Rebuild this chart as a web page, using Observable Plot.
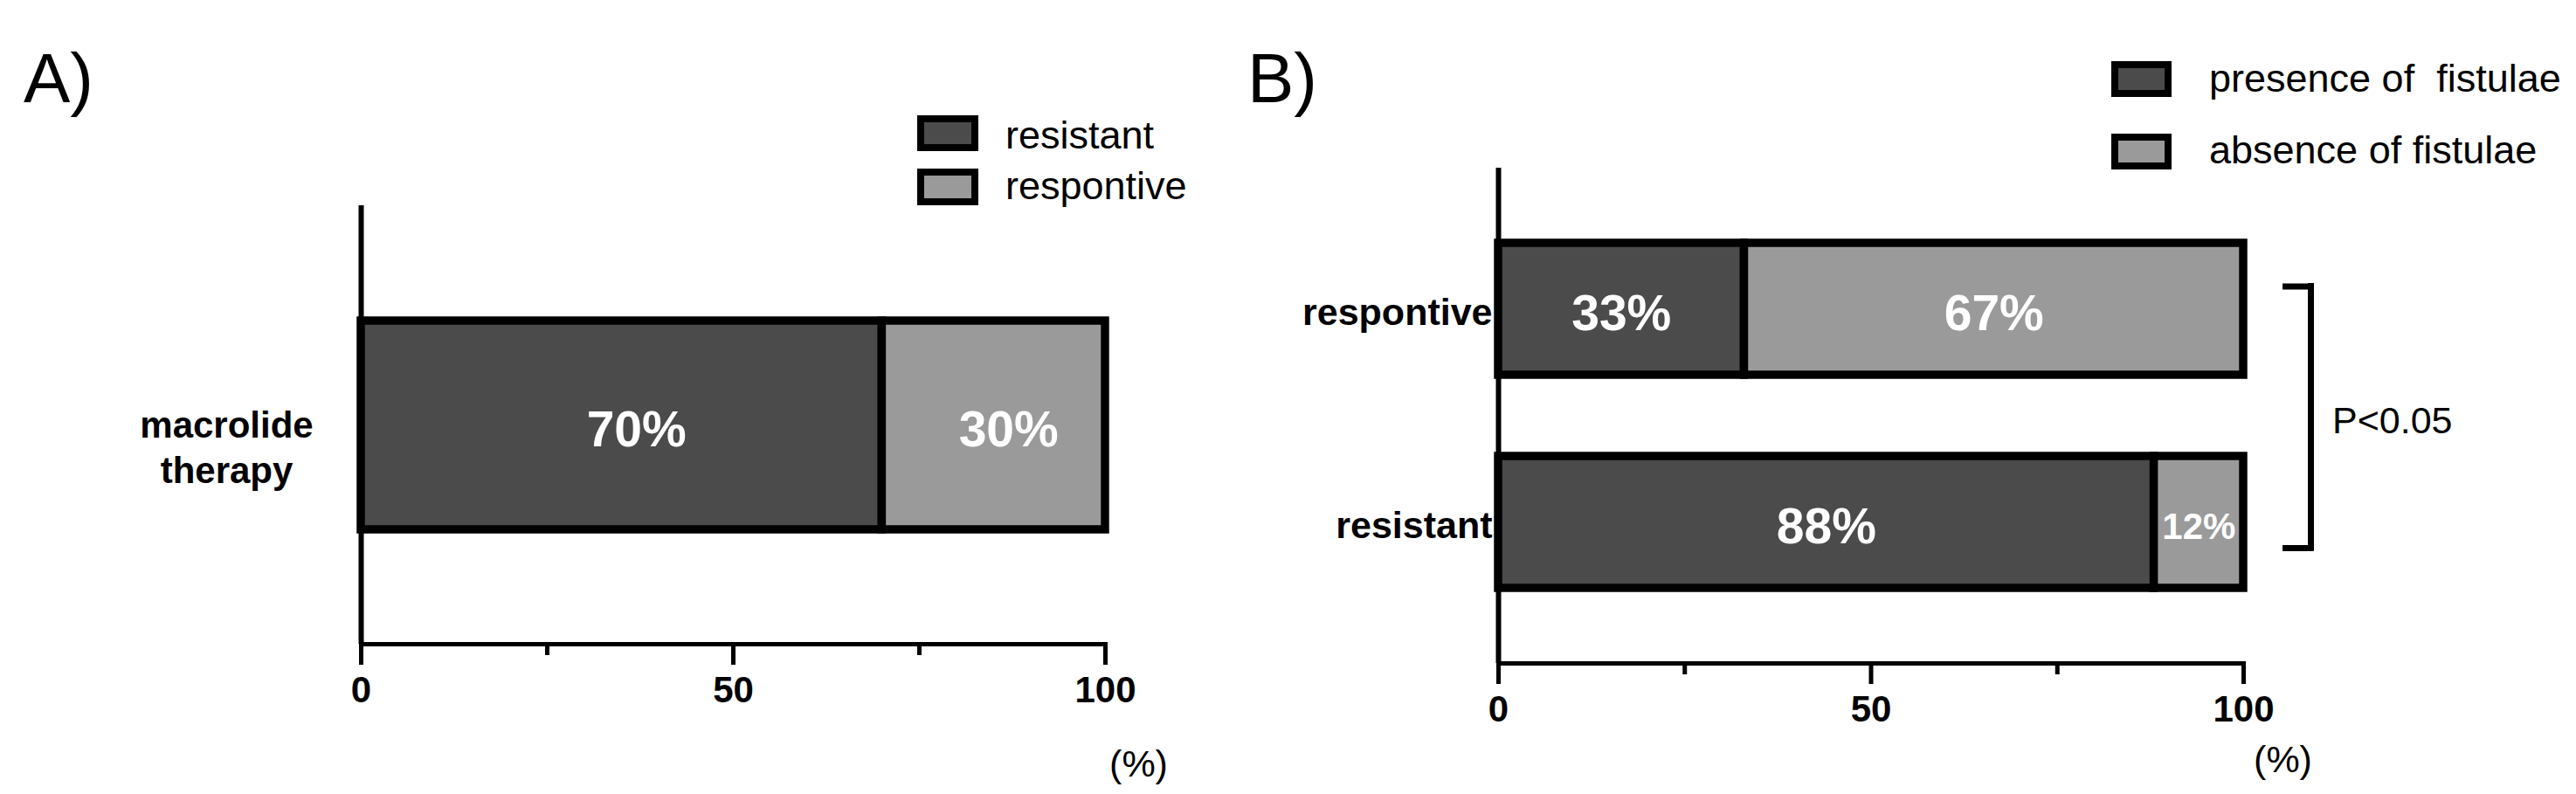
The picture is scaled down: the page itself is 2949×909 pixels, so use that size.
<!DOCTYPE html>
<html><head><meta charset="utf-8">
<script src="https://cdn.jsdelivr.net/npm/d3@7"></script>
<script src="https://cdn.jsdelivr.net/npm/@observablehq/plot@0.6"></script>
<style>
html,body{margin:0;padding:0;background:#fff;}
#wrap{position:relative;width:2949px;height:909px;overflow:hidden;font-family:"Liberation Sans",Arial,sans-serif;color:#000;}
.abs{position:absolute;line-height:1;white-space:pre;}
.sw{position:absolute;box-sizing:border-box;border:8px solid #000;}
</style></head><body><div id="wrap"></div>
<script>
// ---- data ----
const panelLabels = ["A)", "B)"];
const categoriesA = ["macrolide therapy"];
const seriesA = ["resistant", "respontive"];
const valuesA = [[70, 30]];
const categoriesB = ["respontive", "resistant"];
const seriesB = ["presence of  fistulae", "absence of fistulae"];
const valuesB = [[33, 67], [88, 12]];
const majorTicks = [0, 50, 100];
const minorTicks = [25, 75];
const axisUnit = "(%)";
const significance = "P<0.05";
const fills = ["#4b4b4b", "#9a9a9a"];

function toRows(categories, series, values) {
  return categories.flatMap((c, i) => series.map((s, j) => ({group: c, series: s, value: values[i][j]})));
}

function panel(o) {
  const rows = toRows(o.categories, o.series, o.values);
  return Plot.plot({
    width: o.width, height: 909,
    marginLeft: o.marginLeft, marginRight: o.marginRight, marginTop: o.marginTop, marginBottom: o.marginBottom,
    style: {fontFamily: "Liberation Sans, Arial, sans-serif", background: "transparent", overflow: "visible", color: "#000"},
    x: {domain: [0, 100]},
    y: {domain: o.categories, paddingInner: o.padIn, paddingOuter: o.padOut},
    color: {domain: o.series, range: fills},
    marks: [
      Plot.barX(rows, Plot.stackX({x: "value", y: "group", fill: "series", stroke: "#000", strokeWidth: 9.5})),
      Plot.text(rows, Plot.stackX({x: "value", y: "group", z: "series", text: d => d.value + "%", fill: "#fff",
        fontWeight: "bold", fontSize: d => d.value < 20 ? 42 : 57, dx: o.labelDx, dy: 6})),
      Plot.ruleX([0], {stroke: "#000", strokeWidth: 6}),
      Plot.frame({anchor: "bottom", stroke: "#000", strokeWidth: 5}),
      Plot.axisX({ticks: majorTicks, tickSize: 24, tickPadding: 13, strokeWidth: 5, stroke: "#000", fill: "#000",
        fontSize: 42, fontWeight: "bold", tickFormat: d => String(d), label: null}),
      Plot.axisX({ticks: minorTicks, tickSize: 13, strokeWidth: 5, stroke: "#000", tickFormat: () => "", label: null}),
      Plot.axisY(o.yAxis),
      Plot.text([axisUnit], {frameAnchor: "bottom-right", textAnchor: "middle", dx: o.unitDx, dy: o.unitDy, fontSize: 43, fill: "#000"}),
      ...(o.extra || [])
    ]
  });
}

const wrap = document.getElementById("wrap");

const A = panel({
  categories: categoriesA, series: seriesA, values: valuesA,
  width: 1474, marginLeft: 413, marginRight: 209, marginTop: 235, marginBottom: 172,
  padIn: 0, padOut: 0.546, labelDx: 17,
  yAxis: {tickSize: 0, tickPadding: 154, textAnchor: "middle", fontSize: 42, fontWeight: "bold", lineHeight: 1.24,
    dy: 23, fill: "#000", tickFormat: d => d.replace(" ", "\n"), label: null},
  unitDx: 38, unitDy: 151
});
A.style.position = "absolute"; A.style.left = "0px"; A.style.top = "0px";
wrap.appendChild(A);

const B = panel({
  categories: categoriesB, series: seriesB, values: valuesB,
  width: 1475, marginLeft: 241, marginRight: 381, marginTop: 192, marginBottom: 150,
  padIn: 0.382, padOut: 0.35, labelDx: 0,
  yAxis: {tickSize: 0, tickPadding: 7, fontSize: 43, fontWeight: "bold", dy: 4, fill: "#000", label: null},
  unitDx: 45, unitDy: 124,
  extra: [
    Plot.ruleY([categoriesB[0]], {x1: 105.28, x2: 109.44, dy: -26, stroke: "#000", strokeWidth: 7}),
    Plot.ruleY([categoriesB[1]], {x1: 105.28, x2: 109.44, dy: 29.5, stroke: "#000", strokeWidth: 7}),
    Plot.ruleX([109.03], {y1: () => categoriesB[0], y2: () => categoriesB[1], insetTop: 46, insetBottom: 42.5, stroke: "#000", strokeWidth: 7}),
    Plot.text([significance], {x: 111.9, frameAnchor: "middle", textAnchor: "start", fontSize: 43, dy: 6, fill: "#000"})
  ]
});
B.style.position = "absolute"; B.style.left = "1474px"; B.style.top = "0px";
wrap.appendChild(B);

// ---- panel letters and legends (HTML overlays) ----
function addText(txt, left, top, size, weight) {
  const d = document.createElement("div");
  d.className = "abs"; d.textContent = txt;
  d.style.left = left + "px"; d.style.top = top + "px"; d.style.fontSize = size + "px";
  if (weight) d.style.fontWeight = weight;
  wrap.appendChild(d);
}
function addSwatch(left, top, w, h, color) {
  const d = document.createElement("div");
  d.className = "sw";
  d.style.left = left + "px"; d.style.top = top + "px"; d.style.width = w + "px"; d.style.height = h + "px";
  d.style.background = color;
  wrap.appendChild(d);
}
addText(panelLabels[0], 27, 50, 80);
addText(panelLabels[1], 1428, 50, 80);

// legend A
addSwatch(1050, 132, 70, 41, fills[0]);
addSwatch(1050, 193, 70, 42, fills[1]);
addText(seriesA[0], 1151, 132, 45);
addText(seriesA[1], 1151, 190, 45);

// legend B
addSwatch(2417, 70, 69, 41, fills[0]);
addSwatch(2417, 153, 69, 41, fills[1]);
addText(seriesB[0], 2529, 67, 45);
addText(seriesB[1], 2529, 149, 45);
</script>
</body></html>
